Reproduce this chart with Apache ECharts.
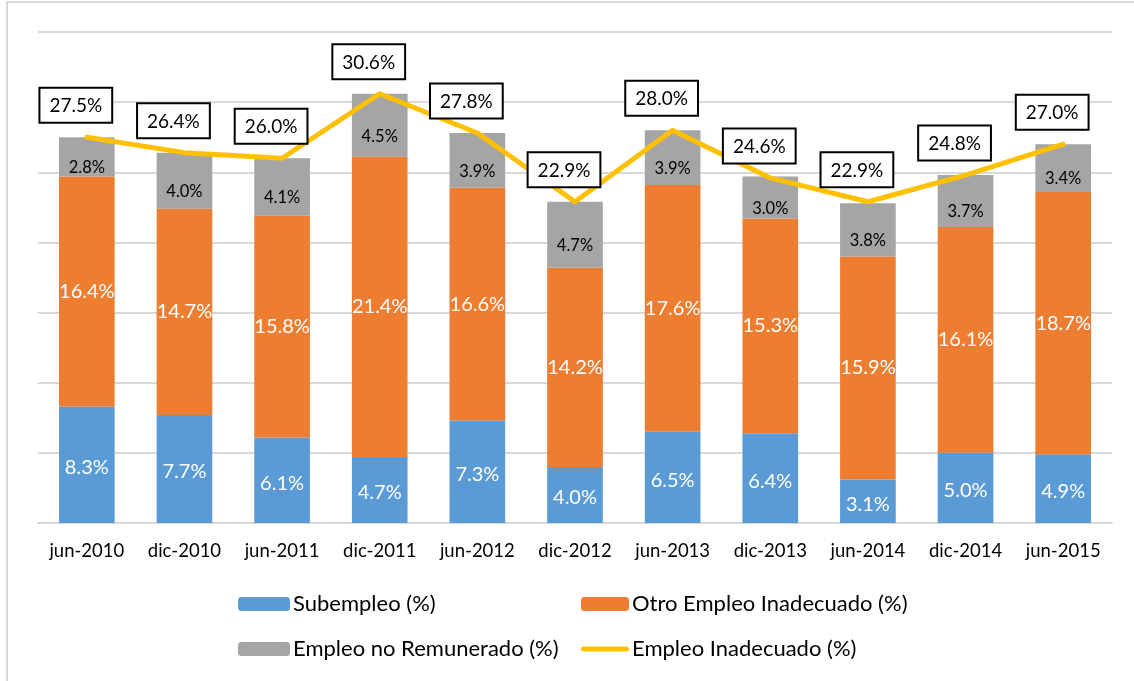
<!DOCTYPE html>
<html>
<head>
<meta charset="utf-8">
<script src="https://cdn.jsdelivr.net/npm/echarts@6/dist/echarts.min.js"></script>
<style>
  html, body { margin: 0; padding: 0; background: #fff; }
  #main { width: 1134px; height: 681px; }
</style>
</head>
<body>
<div id="main"></div>
<script>
var categories = ['jun-2010', 'dic-2010', 'jun-2011', 'dic-2011', 'jun-2012', 'dic-2012', 'jun-2013', 'dic-2013', 'jun-2014', 'dic-2014', 'jun-2015'];
var subempleo = [8.3, 7.7, 6.1, 4.7, 7.3, 4.0, 6.5, 6.4, 3.1, 5.0, 4.9];
var otroEmpleo = [16.4, 14.7, 15.8, 21.4, 16.6, 14.2, 17.6, 15.3, 15.9, 16.1, 18.7];
var noRemunerado = [2.8, 4.0, 4.1, 4.5, 3.9, 4.7, 3.9, 3.0, 3.8, 3.7, 3.4];
var empleoInadecuado = [27.5, 26.4, 26.0, 30.6, 27.8, 22.9, 28.0, 24.6, 22.9, 24.8, 27.0];

var chartDom = document.getElementById('main');
var myChart = echarts.init(chartDom, null, { renderer: 'canvas' });

var font = 'Lato, "Open Sans", sans-serif';
function pct(p) { return p.value.toFixed(1) + '%'; }

// rounded thick line for the legend of the line series
var lineIcon = 'path://M2.5,0 L47.5,0 A2.5,2.5 0 0 1 47.5,5 L2.5,5 A2.5,2.5 0 0 1 2.5,0 Z';

var legendText = { fontSize: 22, color: '#000', fontFamily: font, padding: [0, 0, 0, -2] };

var option = {
  animation: false,
  textStyle: { fontFamily: font },
  graphic: [{
    type: 'rect',
    shape: { x: 7, y: 2, width: 1140, height: 700 },
    style: { fill: 'none', stroke: '#D9D9D9', lineWidth: 2 },
    silent: true
  }],
  grid: { left: 38, right: 22, top: 32, bottom: 158 },
  legend: [{
    orient: 'vertical',
    left: 233, top: 588,
    itemWidth: 52, itemHeight: 14, itemGap: 23,
    textStyle: legendText,
    data: ['Subempleo (%)', 'Empleo no Remunerado (%)']
  }, {
    orient: 'vertical',
    left: 576, top: 588,
    itemWidth: 48, itemHeight: 14, itemGap: 23,
    symbolKeepAspect: true,
    textStyle: legendText,
    data: ['Otro Empleo Inadecuado (%)', { name: 'Empleo Inadecuado (%)', icon: lineIcon }]
  }],
  xAxis: {
    type: 'category',
    data: categories,
    axisTick: { show: false },
    axisLine: { lineStyle: { color: '#D9D9D9', width: 2 } },
    axisLabel: { color: '#000', fontSize: 18.5, margin: 19, fontFamily: font }
  },
  yAxis: {
    type: 'value',
    min: 0, max: 35, interval: 5,
    axisLabel: { show: false },
    axisLine: { show: false },
    axisTick: { show: false },
    splitLine: { lineStyle: { color: '#D9D9D9', width: 2 } }
  },
  series: [{
    name: 'Subempleo (%)',
    type: 'bar',
    stack: 'total',
    barWidth: '57%',
    data: subempleo,
    itemStyle: { color: '#5B9BD5' },
    label: { show: true, position: 'inside', offset: [0, 3], color: '#fff', fontSize: 20, formatter: pct }
  }, {
    name: 'Otro Empleo Inadecuado (%)',
    type: 'bar',
    stack: 'total',
    data: otroEmpleo,
    itemStyle: { color: '#ED7D31' },
    label: { show: true, position: 'inside', color: '#fff', fontSize: 20, formatter: pct }
  }, {
    name: 'Empleo no Remunerado (%)',
    type: 'bar',
    stack: 'total',
    data: noRemunerado,
    itemStyle: { color: '#A5A5A5' },
    label: { show: true, position: 'inside', offset: [0, 11], color: '#000', fontSize: 16.5, formatter: pct }
  }, {
    name: 'Empleo Inadecuado (%)',
    type: 'line',
    data: empleoInadecuado,
    symbol: 'circle',
    symbolSize: 1,
    symbolKeepAspect: true,
    z: 5,
    lineStyle: { color: '#FFC000', width: 5, cap: 'round', join: 'round' },
    itemStyle: { color: '#FFC000' },
    label: {
      show: true, position: 'top', distance: 15, offset: [-11, 0],
      color: '#000', fontSize: 19, formatter: pct,
      backgroundColor: '#fff', borderColor: '#000', borderWidth: 2,
      padding: [8, 9, 6, 9]
    }
  }]
};

myChart.setOption(option);
window.addEventListener('resize', function () { myChart.resize(); });
</script>
</body>
</html>
